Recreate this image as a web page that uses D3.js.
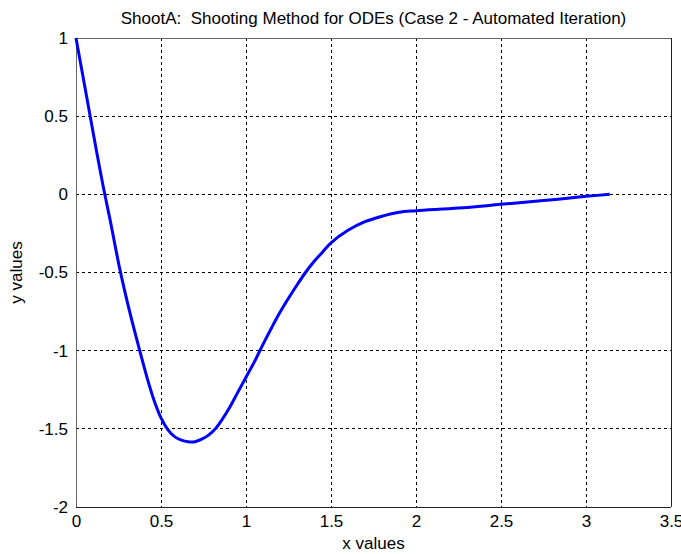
<!DOCTYPE html>
<html>
<head>
<meta charset="utf-8">
<script src="https://cdn.jsdelivr.net/npm/d3@7"></script>
<style>
  body { margin: 0; background: #fff; }
  text { font-family: "Liberation Sans", Arial, sans-serif; fill: #000; }
</style>
</head>
<body>
<div class="chart"></div>
<script>
const title = 'ShootA:\u00a0 Shooting Method for ODEs (Case 2 - Automated Iteration)';
const xLabel = 'x values';
const yLabel = 'y values';
const xTicks = [0, 0.5, 1, 1.5, 2, 2.5, 3, 3.5];
const yTicks = [1, 0.5, 0, -0.5, -1, -1.5, -2];

const xs = [0, 0.04, 0.08, 0.12, 0.16, 0.2, 0.26, 0.32, 0.38, 0.42, 0.46, 0.5, 0.54, 0.58,
  0.62, 0.66, 0.7, 0.74, 0.78, 0.82, 0.86, 0.9, 0.95, 1.0, 1.05, 1.1, 1.15, 1.2, 1.25,
  1.3, 1.35, 1.4, 1.45, 1.5, 1.6, 1.7, 1.8, 1.9, 2.0, 2.25, 2.5, 2.75, 3.0, 3.14];
const ys = [1, 0.76, 0.52, 0.28, 0.05, -0.16, -0.49, -0.77, -1.02, -1.18, -1.32, -1.43,
  -1.505, -1.55, -1.572, -1.582, -1.582, -1.566, -1.54, -1.50, -1.44, -1.37, -1.27, -1.17,
  -1.07, -0.96, -0.855, -0.755, -0.665, -0.58, -0.5, -0.43, -0.37, -0.31, -0.23, -0.175,
  -0.14, -0.115, -0.105, -0.088, -0.064, -0.04, -0.013, 0];

const width = 681, height = 554;
const margin = { left: 76, top: 38, right: 10, bottom: 47 };

const svg = d3.select('.chart').append('svg')
  .attr('width', width)
  .attr('height', height);

const x = d3.scaleLinear().domain([0, 3.5]).range([margin.left, width - margin.right]);
const y = d3.scaleLinear().domain([-2, 1]).range([height - margin.bottom, margin.top]);

// dashed grid
svg.append('g')
  .selectAll('line')
  .data(xTicks.slice(1, -1))
  .enter().append('line')
  .attr('x1', d => x(d)).attr('x2', d => x(d))
  .attr('y1', y(1)).attr('y2', y(-2))
  .attr('stroke', '#000')
  .attr('stroke-width', 1)
  .attr('stroke-dasharray', '3,3')
  .attr('shape-rendering', 'crispEdges');

svg.append('g')
  .selectAll('line')
  .data(yTicks.slice(1, -1))
  .enter().append('line')
  .attr('x1', x(0)).attr('x2', x(3.5))
  .attr('y1', d => y(d)).attr('y2', d => y(d))
  .attr('stroke', '#000')
  .attr('stroke-width', 1)
  .attr('stroke-dasharray', '3,3')
  .attr('shape-rendering', 'crispEdges');

// axes (labels only, plain hyphen for negatives like the original)
const fmt = d => String(d);
const xAxis = svg.append('g')
  .attr('transform', `translate(0,${y(-2)})`)
  .call(d3.axisBottom(x).tickValues(xTicks).tickSize(0).tickPadding(8).tickFormat(fmt));
const yAxis = svg.append('g')
  .attr('transform', `translate(${x(0)},0)`)
  .call(d3.axisLeft(y).tickValues(yTicks).tickSize(0).tickPadding(8).tickFormat(fmt));

[xAxis, yAxis].forEach(a => {
  a.select('.domain').remove();
  a.selectAll('text')
    .attr('font-size', 17)
    .attr('font-family', '"Liberation Sans", Arial, sans-serif')
    .attr('fill', '#000');
});

// box: top/left lighter, bottom/right darker
const box = svg.append('g').attr('shape-rendering', 'crispEdges');
box.append('line')
  .attr('x1', x(0)).attr('x2', x(3.5)).attr('y1', y(1)).attr('y2', y(1))
  .attr('stroke', '#666');
box.append('line')
  .attr('x1', x(0)).attr('x2', x(0)).attr('y1', y(1)).attr('y2', y(-2))
  .attr('stroke', '#666');
box.append('line')
  .attr('x1', x(0)).attr('x2', x(3.5)).attr('y1', y(-2)).attr('y2', y(-2))
  .attr('stroke', '#222');
box.append('line')
  .attr('x1', x(3.5)).attr('x2', x(3.5)).attr('y1', y(1)).attr('y2', y(-2))
  .attr('stroke', '#222');

// curve
const points = xs.map((d, i) => [d, ys[i]]);
svg.append('path')
  .datum(points)
  .attr('fill', 'none')
  .attr('stroke', '#0000ff')
  .attr('stroke-width', 3)
  .attr('d', d3.line().x(d => x(d[0])).y(d => y(d[1])).curve(d3.curveCatmullRom));

// labels
svg.append('text')
  .attr('x', (x(0) + x(3.5)) / 2)
  .attr('y', 24)
  .attr('text-anchor', 'middle')
  .attr('font-size', 17)
  .text(title);

svg.append('text')
  .attr('x', (x(0) + x(3.5)) / 2)
  .attr('y', 549)
  .attr('text-anchor', 'middle')
  .attr('font-size', 17)
  .text(xLabel);

svg.append('text')
  .attr('transform', `translate(22,${(y(1) + y(-2)) / 2}) rotate(-90)`)
  .attr('text-anchor', 'middle')
  .attr('font-size', 17)
  .text(yLabel);
</script>
</body>
</html>
